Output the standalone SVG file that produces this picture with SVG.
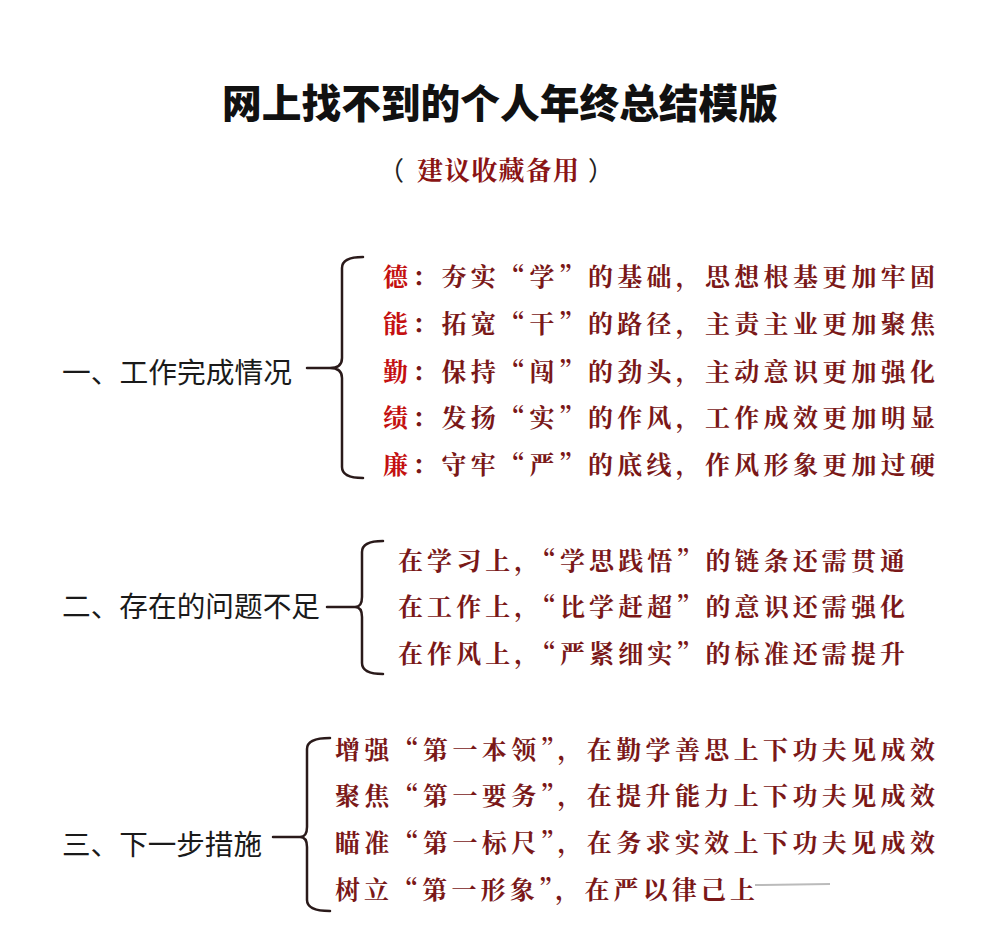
<svg xmlns="http://www.w3.org/2000/svg" width="1004" height="930" viewBox="0 0 1004 930">
<style>
.title{font-family:"Noto Sans CJK SC","Noto Sans CJK JP",sans-serif;font-weight:900;font-size:40px;fill:#111}
.sub{font-family:"Noto Serif CJK SC","Noto Sans CJK SC",serif;font-size:26px;font-weight:700;fill:#8a1414}
.paren{font-family:"Noto Sans CJK SC",sans-serif;font-size:26px;fill:#222}
.lbl{font-family:"Noto Sans CJK SC","Noto Sans CJK JP",sans-serif;font-size:28px;fill:#1a1a1a}
.item{font-family:"Noto Serif CJK SC","Noto Sans CJK SC",serif;font-size:25px;font-weight:700;fill:#7a1818}
.hl{fill:#c41010}
.br{fill:none;stroke:#2a1a1a;stroke-width:2.5;stroke-linecap:round;stroke-linejoin:round}
</style>
<rect width="1004" height="930" fill="#ffffff"/>
<g id="title">
<text class="title" x="500" y="118" text-anchor="middle" textLength="556" lengthAdjust="spacingAndGlyphs">网上找不到的个人年终总结模版</text>
<text class="paren" x="378" y="180">（</text>
<text class="sub" x="498" y="180" text-anchor="middle" textLength="162" lengthAdjust="spacing">建议收藏备用</text>
<text class="paren" x="588" y="180">）</text>
</g>
<g id="connectors">
<path class="br" d="M307 368 H330 M363 257 Q342 257 342 268 V358 Q342 368 330 368 Q342 368 342 378 V467 Q342 478 363 478"/>
<path class="br" d="M327 607 H355 M383 541 Q362 541 362 552 V597 Q362 607 355 607 Q362 607 362 617 V663 Q362 674 383 674"/>
<path class="br" d="M273 837 H300 M330 738 Q307 738 307 749 V827 Q307 837 300 837 Q307 837 307 847 V900 Q307 911 330 911"/>
<line x1="755" y1="885" x2="830" y2="884" stroke="#bbbbbb" stroke-width="2"/>
</g>
<g id="node1">
<text class="lbl" x="62" y="383" textLength="230" lengthAdjust="spacingAndGlyphs">一、工作完成情况</text>
</g>
<g id="node1-items">
<text class="item" x="383" y="286" textLength="552" lengthAdjust="spacing"><tspan class="hl">德</tspan>：夯实“学”的基础，思想根基更加牢固</text>
<text class="item" x="383" y="333" textLength="552" lengthAdjust="spacing"><tspan class="hl">能</tspan>：拓宽“干”的路径，主责主业更加聚焦</text>
<text class="item" x="383" y="381" textLength="552" lengthAdjust="spacing"><tspan class="hl">勤</tspan>：保持“闯”的劲头，主动意识更加强化</text>
<text class="item" x="383" y="427" textLength="552" lengthAdjust="spacing"><tspan class="hl">绩</tspan>：发扬“实”的作风，工作成效更加明显</text>
<text class="item" x="383" y="474" textLength="552" lengthAdjust="spacing"><tspan class="hl">廉</tspan>：守牢“严”的底线，作风形象更加过硬</text>
</g>
<g id="node2">
<text class="lbl" x="62" y="617" textLength="258" lengthAdjust="spacingAndGlyphs">二、存在的问题不足</text>
</g>
<g id="node2-items">
<text class="item" x="398" y="570" textLength="507" lengthAdjust="spacing">在学习上，“学思践悟”的链条还需贯通</text>
<text class="item" x="398" y="616" textLength="507" lengthAdjust="spacing">在工作上，“比学赶超”的意识还需强化</text>
<text class="item" x="398" y="663" textLength="507" lengthAdjust="spacing">在作风上，“严紧细实”的标准还需提升</text>
</g>
<g id="node3">
<text class="lbl" x="62" y="855" textLength="200" lengthAdjust="spacingAndGlyphs">三、下一步措施</text>
</g>
<g id="node3-items">
<text class="item" x="335" y="759" textLength="600" lengthAdjust="spacing">增强“第一本领”，在勤学善思上下功夫见成效</text>
<text class="item" x="335" y="805" textLength="600" lengthAdjust="spacing">聚焦“第一要务”，在提升能力上下功夫见成效</text>
<text class="item" x="335" y="852" textLength="600" lengthAdjust="spacing">瞄准“第一标尺”，在务求实效上下功夫见成效</text>
<text class="item" x="335" y="899" textLength="420" lengthAdjust="spacing">树立“第一形象”，在严以律己上</text>
</g>
</svg>
